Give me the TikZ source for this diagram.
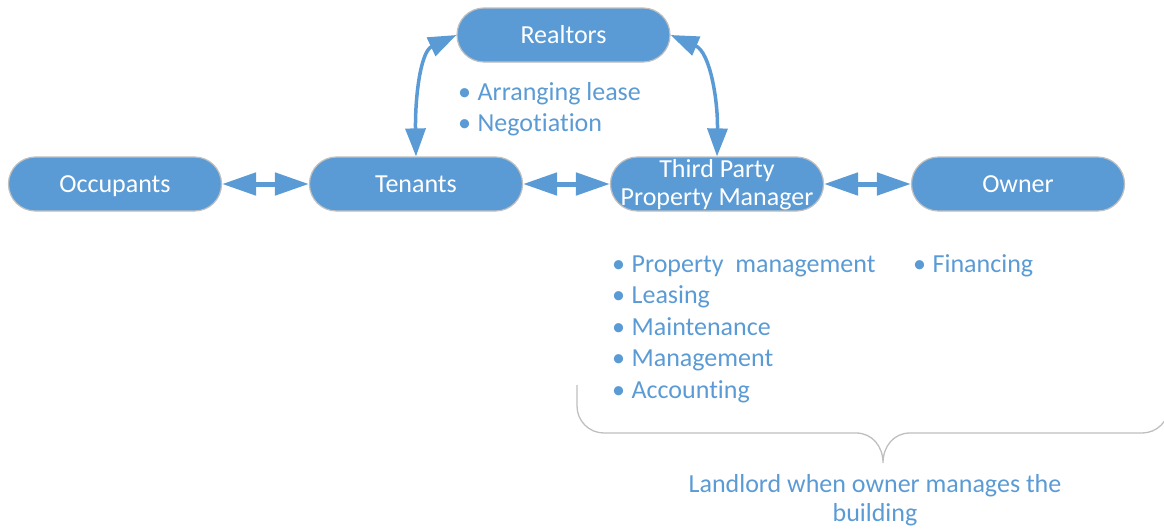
\documentclass[tikz,border=0pt]{standalone}
\usepackage{fontspec}
\setmainfont{Carlito}[Ligatures=NoCommon]
\usetikzlibrary{arrows.meta}
\definecolor{blu}{HTML}{5B9BD5}
\definecolor{brc}{HTML}{BFBFBF}
\begin{document}
\begin{tikzpicture}[x=1pt,y=-1pt,
  box/.style={draw=brc, line width=1.2pt, fill=blu, text=white,
    minimum width=213pt, minimum height=54pt, rounded corners=26.9pt,
    inner sep=0pt, font=\fontsize{26}{31}\selectfont,
    text height=17pt, text depth=0pt},
  boxtxt/.style={text=white, inner sep=0pt, align=center,
    font=\fontsize{26}{28}\selectfont},
  lst/.style={text=blu, inner sep=0pt, align=left, anchor=base west,
    font=\fontsize{26}{31.5}\selectfont},
  note/.style={text=blu, inner sep=0pt, align=center, anchor=base,
    font=\fontsize{26}{29}\selectfont},
  harr/.style={draw=blu, line width=5pt,
    {Triangle[length=34pt,width=22pt]}-{Triangle[length=34pt,width=22pt]}},
  carr/.style={draw=blu, line width=3.5pt,
    {Triangle[length=28pt,width=20pt]}-{Triangle[length=28pt,width=20pt]}},
  bracestyle/.style={draw=brc, line width=1.3pt}
]
\useasboundingbox (0,0) rectangle (1164,531);
\begin{scope}
\clip (0,0) rectangle (1164,531);

% nodes
\node[box] (rea) at (563.5,35) {Realtors};
\node[box] (occ) at (115,184) {Occupants};
\node[box] (ten) at (416,184) {Tenants};
\node[box] (pm)  at (717,184) {};
\node[boxtxt, anchor=base] (pmtxt) at (717,205) {Third Party\\Property Manager};
\node[box] (own) at (1018,184) {Owner};

% connectors
\draw[harr] (occ.east) -- (ten.west);
\draw[harr] (ten.east) -- (pm.west);
\draw[harr] (pm.east) -- (own.west);
\draw[carr] (ten.north) .. controls (415,100) and (420,52) .. (rea.west);
\draw[carr] (pm.north) .. controls (718,100) and (710,52) .. (rea.east);

% bullet lists (anchor = baseline of last line)
\node[lst] (rlist) at (458,131.5) {\textbullet\hspace{6.5pt}Arranging lease\\\textbullet\hspace{6.5pt}Negotiation};
\node[lst] (pmlist) at (612,398) {\textbullet\hspace{6.5pt}Property~ management\\\textbullet\hspace{6.5pt}Leasing\\\textbullet\hspace{6.5pt}Maintenance\\\textbullet\hspace{6.5pt}Management\\\textbullet\hspace{6.5pt}Accounting};
\node[lst] (olist) at (913,272) {\textbullet\hspace{6.5pt}Financing};

% brace
\draw[bracestyle] (577,385) -- (577,406) .. controls (577,421) and (589,433) .. (604,433)
  -- (856,433) .. controls (872,433) and (883,446) .. (883,463)
  .. controls (883,446) and (894,433) .. (910,433)
  -- (1142,433) .. controls (1157,433) and (1169,421) .. (1169,406) -- (1169,385);

\node[note] (land) at (875,521) {Landlord when owner manages the\\building};
\end{scope}
\end{tikzpicture}
\end{document}
